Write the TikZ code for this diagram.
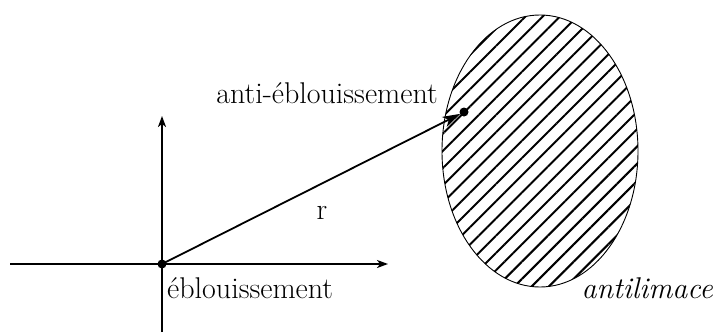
\documentclass[tikz,border=0pt]{standalone}
\usetikzlibrary{arrows.meta,patterns.meta}
\begin{document}
\begin{tikzpicture}[x=1pt,y=-1pt,
  axis/.style={line width=1.8pt,-{Stealth[length=11pt,width=8pt,inset=3pt]}},
  vec/.style={line width=1.8pt,-{Stealth[length=18pt,width=11pt,inset=5pt]},shorten >=4pt},
  dotmark/.style={circle,fill=black,inner sep=0pt,minimum size=9pt},
  lbl/.style={font=\fontsize{30}{36}\selectfont,inner sep=0pt}]
\useasboundingbox (0,0) rectangle (716,335);
% hatched region
\path[pattern={Lines[angle=45,distance=12.2pt,line width=2pt]}] (540,151) ellipse [x radius=98pt, y radius=136pt];
\draw[line width=0.9pt] (540,151) ellipse [x radius=98pt, y radius=136pt];
% axes
\coordinate (xl) at (10,264);
\coordinate (xr) at (388,264);
\coordinate (yb) at (162,332);
\coordinate (yt) at (162,116);
\draw[axis] (xl) -- (xr);
\draw[axis] (yb) -- (yt);
\node[dotmark] (O) at (162,264) {};
\node[dotmark] (P) at (464,112) {};
\draw[vec] (O.center) -- (P.center);
\node[lbl] (r) at (322,213) {r};
\node[lbl,anchor=base] (a) at (327,103) {anti-éblouissement};
\node[lbl,anchor=base west] (e) at (167,298) {éblouissement};
\node[lbl,anchor=base east] (s) at (713,298) {\itshape antilimace};
\end{tikzpicture}
\end{document}
